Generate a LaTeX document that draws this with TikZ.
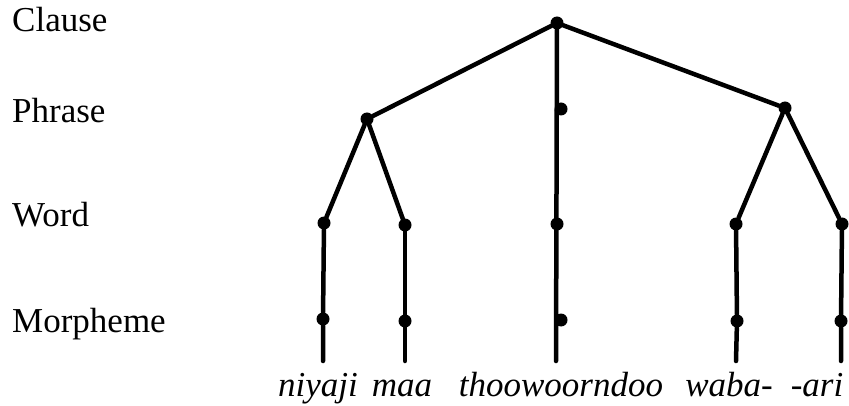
\documentclass[tikz,border=0pt]{standalone}
\usepackage{fontspec}
\setmainfont{Liberation Serif}

\begin{document}
\begin{tikzpicture}[x=1pt,y=-1pt,
	dot/.style={circle,fill,inner sep=0pt,minimum size=13pt},
	lvl/.style={anchor=base west,inner sep=0pt,font=\fontsize{35}{40}\selectfont},
	wrd/.style={anchor=base,inner sep=0pt,font=\fontsize{35}{40}\selectfont\itshape},
	br/.style={line width=4.5pt,line cap=round,line join=round}]
	\useasboundingbox (0,0) rectangle (849,406);
	% level labels
	\node[lvl] (clause) at (12,32) {Clause};
	\node[lvl] (phrase) at (12,123) {Phrase};
	\node[lvl] (word) at (12,227) {Word};
	\node[lvl] (morph) at (12,332) {Morpheme};
	% tree nodes
	\node[dot] (top) at (557,23) {};
	\node[dot] (pa) at (367,119) {};
	\node[dot] (pb) at (561,109) {};
	\node[dot] (pc) at (785,108) {};
	\node[dot] (wa) at (324,223) {};
	\node[dot] (wb) at (405,225) {};
	\node[dot] (wc) at (557,224) {};
	\node[dot] (wd) at (736,224) {};
	\node[dot] (we) at (842,224) {};
	\node[dot] (ma) at (323,319) {};
	\node[dot] (mb) at (405,321) {};
	\node[dot] (mc) at (561,320) {};
	\node[dot] (md) at (737,321) {};
	\node[dot] (me) at (841,321) {};
	\foreach \n/\x in {a/323, b/405, c/556, d/736, e/841} { \coordinate (e\n) at (\x,361); }
	% branches
	\draw[br] (pa) -- (top) -- (pc);
	\draw[br] (top) -- (ec);
	\draw[br] (wa) -- (pa) -- (wb);
	\draw[br] (wd) -- (pc) -- (we);
	\foreach \n in {a,b,d,e} { \draw[br] (w\n) -- (m\n) -- (e\n); }
	% words
	\node[wrd] (niyaji) at (318,396) {niyaji};
	\node[wrd] (maa) at (402,396) {maa};
	\node[wrd] (thoo) at (561,396) {thoowoorndoo};
	\node[wrd] (waba) at (729,396) {waba-};
	\node[wrd] (ari) at (817,396) {-ari};
\end{tikzpicture}
\end{document}
